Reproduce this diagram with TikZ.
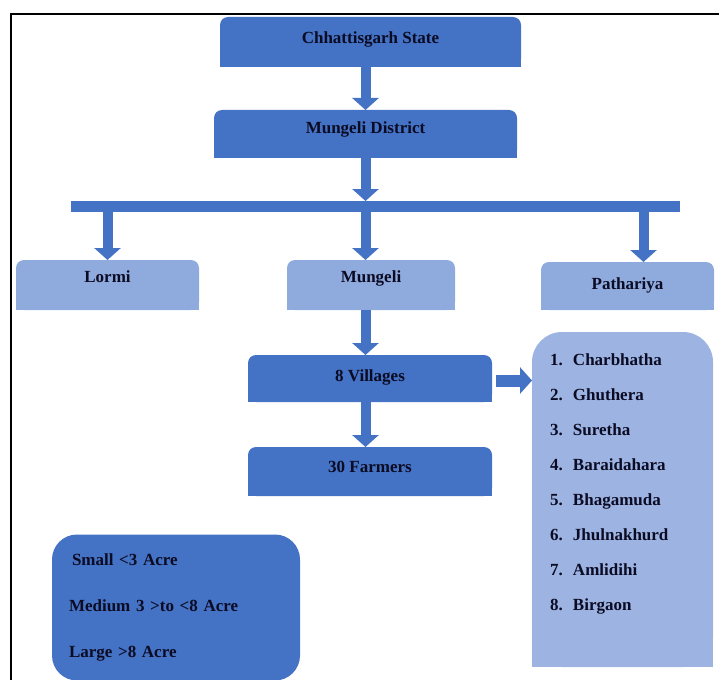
\documentclass[tikz,border=0pt]{standalone}
\usepackage{fontspec}
\setmainfont{Liberation Serif}
\usetikzlibrary{arrows.meta}

\definecolor{darkblue}{HTML}{4472C4}
\definecolor{lightblue}{HTML}{8FAADC}
\definecolor{listblue}{HTML}{9DB4E2}
\definecolor{inkblue}{HTML}{0B0B24}

\begin{document}
\begin{tikzpicture}[x=1pt,y=-1pt,
    nodes={outer sep=0pt, inner sep=0pt, text=inkblue, font=\fontsize{17}{20}\selectfont\bfseries},
    darkbox/.style={fill=darkblue, rounded corners=8pt, text height=12pt},
    lightbox/.style={fill=lightblue, rounded corners=8pt, text height=12pt},
    blockarrow/.style={draw=darkblue, line width=10pt, -{Triangle[width=26pt,length=12pt]}}]
  \useasboundingbox (0,0) rectangle (719,679);
  \draw[line width=2pt] (11,681) -- (11,14) -- (720,14);

  % boxes
  \node (chhattisgarh) at (370.5,42)  [darkbox, minimum width=301pt, minimum height=50pt, text depth=8pt] {Chhattisgarh State};
  \node (district)     at (365.5,134) [darkbox, minimum width=303pt, minimum height=48pt, text depth=12pt] {Mungeli District};
  \node (bar)          at (375.5,206.5) [fill=darkblue, minimum width=609pt, minimum height=11pt] {};
  \node (lormi)        at (107.5,285) [lightbox, minimum width=183pt, minimum height=50pt, text depth=18pt] {Lormi};
  \node (mungeli)      at (371,285)   [lightbox, minimum width=168pt, minimum height=50pt, text depth=18pt] {Mungeli};
  \node (pathariya)    at (627.5,286) [lightbox, minimum width=173pt, minimum height=48pt, text depth=6pt] {Pathariya};
  \node (villages)     at (370,378.5) [darkbox, minimum width=244pt, minimum height=47pt, text depth=7pt] {8 Villages};
  \node (farmers)      at (370,471.5) [darkbox, minimum width=244pt, minimum height=49pt, text depth=11pt] {30 Farmers};
  \node (villagelist)  at (622.5,499.5) [fill=listblue, rounded corners=30pt, minimum width=181pt, minimum height=335pt,
                                         text width=145pt, align=left, font=\fontsize{17}{35}\selectfont\bfseries]
    {\makebox[23pt][l]{1.}Charbhatha\\ \makebox[23pt][l]{2.}Ghuthera\\ \makebox[23pt][l]{3.}Suretha\\
     \makebox[23pt][l]{4.}Baraidahara\\ \makebox[23pt][l]{5.}Bhagamuda\\ \makebox[23pt][l]{6.}Jhulnakhurd\\
     \makebox[23pt][l]{7.}Amlidihi\\ \makebox[23pt][l]{8.}Birgaon\\ \mbox{}};
  \node (landsize)     at (176,607.5) [fill=darkblue, rounded corners=25pt, minimum width=248pt, minimum height=146pt,
                                       text width=214pt, align=left, font=\fontsize{17}{46}\selectfont\bfseries]
    {\hspace{3pt}Small <3 Acre\\ Medium 3 >to <8 Acre\\ Large >8 Acre};

  % square bottom corners
  \foreach \n/\c in {chhattisgarh/darkblue, district/darkblue, lormi/lightblue, mungeli/lightblue,
                     pathariya/lightblue, villages/darkblue, farmers/darkblue}
    \fill[\c] ([yshift=10pt]\n.south west) rectangle (\n.south east);
  \fill[listblue] ([yshift=32pt]villagelist.south west) rectangle (villagelist.south east);

  % arrows
  \draw[blockarrow] (chhattisgarh.south -| district.south) -- (district.north);
  \draw[blockarrow] (district.south) -- (bar.north -| district.south);
  \draw[blockarrow] (bar.south -| lormi.north) -- (lormi.north);
  \draw[blockarrow] (bar.south -| district.south) -- (mungeli.north -| district.south);
  \draw[blockarrow] ([xshift=16pt]pathariya.north |- bar.south) -- ([xshift=16pt]pathariya.north);
  \draw[blockarrow] (mungeli.south -| district.south) -- (villages.north -| district.south);
  \draw[blockarrow] (villages.south -| district.south) -- (farmers.north -| district.south);
  \draw[blockarrow, line width=12pt] ([xshift=4pt,yshift=-2pt]villages.east) -- ([yshift=-2pt]villagelist.west |- villages.east);
\end{tikzpicture}
\end{document}
